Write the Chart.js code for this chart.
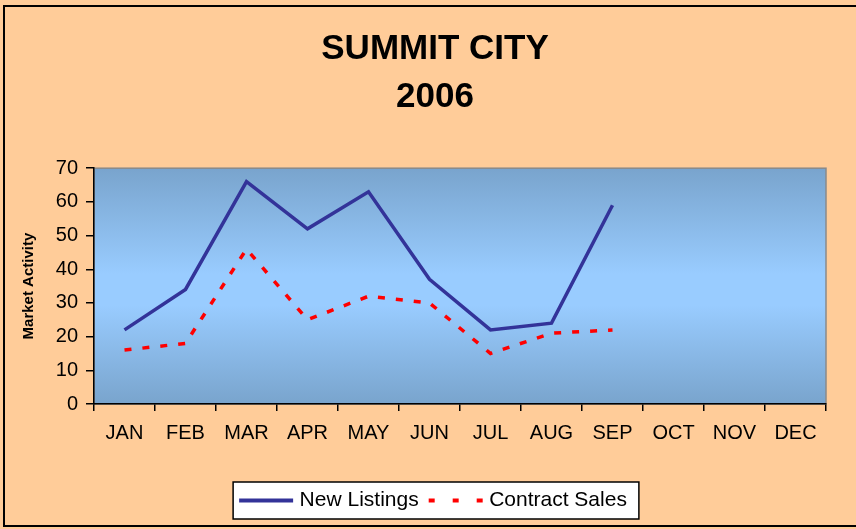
<!DOCTYPE html>
<html>
<head>
<meta charset="utf-8">
<script src="https://cdn.jsdelivr.net/npm/chart.js@4"></script>
<style>
  html, body { margin: 0; padding: 0; background: #FFCC99; }
  #wrap { width: 856px; height: 529px; }
</style>
</head>
<body>
<div id="wrap"><canvas id="myChart" width="856" height="529"></canvas></div>
<script>
// Chart data
const months = ['JAN', 'FEB', 'MAR', 'APR', 'MAY', 'JUN', 'JUL', 'AUG', 'SEP', 'OCT', 'NOV', 'DEC'];
const newListings = [22, 34, 66, 52, 63, 37, 22, 24, 59, null, null, null];
const contractSales = [16, 18, 46, 25, 32, 30, 15, 21, 22, null, null, null];
const yTicks = [0, 10, 20, 30, 40, 50, 60, 70];

const font = 'Arial, "Liberation Sans", sans-serif';

// small line samples used as legend symbols
function legendLine(color, dash) {
    let cv = document.createElement('canvas');
    cv.width = 56;
    cv.height = 8;
    let c = cv.getContext('2d');
    c.strokeStyle = color;
    c.lineWidth = 4;
    c.setLineDash(dash);
    c.beginPath();
    c.moveTo(1, 4);
    c.lineTo(55, 4);
    c.stroke();
    return cv;
}
const blueSample = legendLine('#333399', []);
const redSample = legendLine('#FF0000', [6, 18]);

// page background, outer frame, plot gradient and legend box
const backdrop = {
    id: 'backdrop',
    beforeDraw(chart) {
        const c = chart.ctx;
        const a = chart.chartArea;
        c.save();
        c.fillStyle = '#FFCC99';
        c.fillRect(0, 0, chart.width, chart.height);
        c.strokeStyle = '#000';
        c.lineWidth = 2;
        c.strokeRect(4, 6, chart.width + 10, chart.height - 9);

        let g = c.createLinearGradient(0, a.top, 0, a.bottom);
        g.addColorStop(0, '#79A4CD');
        g.addColorStop(0.45, '#99CCFF');
        g.addColorStop(0.58, '#99CCFF');
        g.addColorStop(1, '#79A4CD');
        c.fillStyle = g;
        c.fillRect(a.left, a.top, a.right - a.left, a.bottom - a.top);
        c.strokeStyle = '#8A8A8A';
        c.lineWidth = 1.5;
        c.strokeRect(a.left, a.top, a.right - a.left, a.bottom - a.top);

        // white legend box
        const boxes = chart.legend.legendHitBoxes;
        if (boxes && boxes.length) {
            let l = Math.min(...boxes.map(b => b.left)) - 10;
            let r = Math.max(...boxes.map(b => b.left + b.width)) + 12;
            let t = Math.min(...boxes.map(b => b.top)) - 8;
            let btm = Math.max(...boxes.map(b => b.top + b.height)) + 8;
            c.fillStyle = '#fff';
            c.fillRect(l, t, r - l, btm - t);
            c.strokeStyle = '#000';
            c.lineWidth = 1.5;
            c.strokeRect(l, t, r - l, btm - t);
        }
        c.restore();
    }
};

let ctx = document.getElementById('myChart').getContext('2d');
let myChart = new Chart(ctx, {
    type: 'line',
    data: {
        labels: months,
        datasets: [
            {
                label: 'New Listings',
                data: newListings,
                borderColor: '#333399',
                backgroundColor: '#333399',
                borderWidth: 3.5,
                pointRadius: 0,
                pointStyle: blueSample,
                fill: false,
                tension: 0
            },
            {
                label: 'Contract Sales',
                data: contractSales,
                borderColor: '#FF0000',
                backgroundColor: '#FF0000',
                borderWidth: 3.5,
                borderDash: [7, 11],
                pointRadius: 0,
                pointStyle: redSample,
                fill: false,
                tension: 0
            }
        ]
    },
    options: {
        responsive: false,
        animation: false,
        layout: { padding: { left: 14, right: 0, top: 10, bottom: 8 } },
        plugins: {
            title: {
                display: true,
                text: ['SUMMIT CITY', '2006'],
                color: '#000',
                font: { family: font, size: 35, weight: 'bold', lineHeight: 1.36 },
                padding: { top: 16, bottom: 47 }
            },
            legend: {
                position: 'bottom',
                labels: {
                    usePointStyle: true,
                    pointStyleWidth: 46,
                    color: '#000',
                    font: { family: font, size: 21 },
                    padding: 14
                }
            },
            tooltip: { enabled: false }
        },
        scales: {
            x: {
                offset: true,
                grid: {
                    offset: true,
                    drawOnChartArea: false,
                    color: '#000',
                    tickLength: 7,
                    lineWidth: 1.5
                },
                border: { color: '#000', width: 1.5 },
                ticks: {
                    color: '#000',
                    font: { family: font, size: 20 },
                    padding: 10,
                    maxRotation: 0
                },
                afterFit: function(scale) { scale.height = 72; }
            },
            y: {
                min: 0,
                max: 70,
                afterBuildTicks: function(scale) {
                    scale.ticks = yTicks.map(v => ({ value: v }));
                },
                grid: {
                    drawOnChartArea: false,
                    color: '#000',
                    tickLength: 8,
                    lineWidth: 1.5
                },
                border: { color: '#000', width: 1.5 },
                ticks: {
                    color: '#000',
                    font: { family: font, size: 20 },
                    padding: 8
                },
                title: {
                    display: true,
                    text: 'Market Activity',
                    color: '#000',
                    font: { family: font, size: 15, weight: 'bold' },
                    padding: { top: 6, bottom: 0 }
                },
                afterFit: function(scale) { scale.width = 80; }
            },
            // empty right-hand spacer so the plot stops where the original does
            spacer: {
                type: 'linear',
                position: 'right',
                grid: { display: false },
                border: { display: false },
                ticks: { display: false },
                afterFit: function(scale) { scale.width = 30; }
            }
        }
    },
    plugins: [backdrop]
});
</script>
</body>
</html>
